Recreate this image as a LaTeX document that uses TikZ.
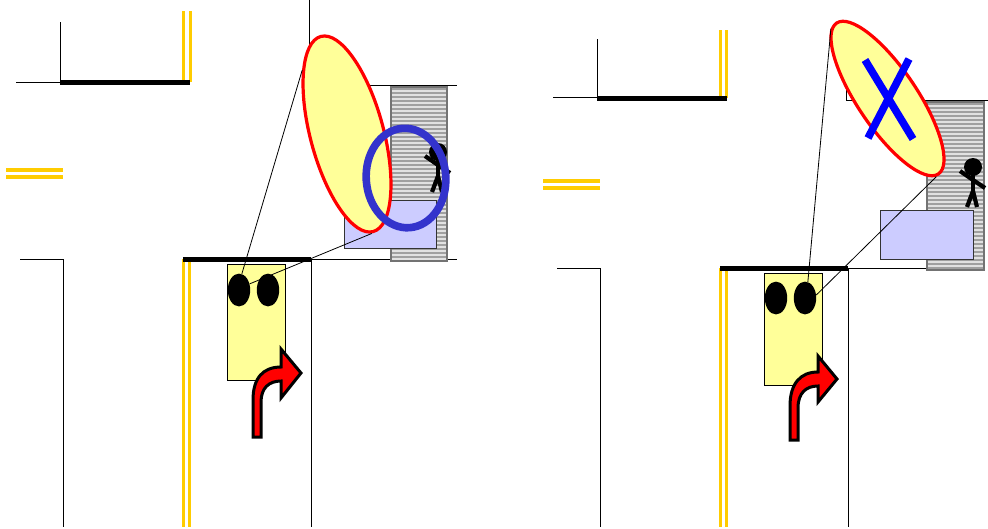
\documentclass[tikz,border=0pt]{standalone}
\usepackage{xcolor}
\usetikzlibrary{shapes.geometric, calc}
\definecolor{roadyellow}{RGB}{255, 204, 0}
\definecolor{carfill}{RGB}{255, 255, 153}
\definecolor{bluebox}{RGB}{204, 204, 255}
\definecolor{ringblue}{RGB}{51, 51, 204}
\definecolor{stripegray}{RGB}{160, 160, 160}
\definecolor{stripelight}{RGB}{225, 225, 225}
\tikzset{
    edge/.style    ={draw=black, line width=0.22mm},
    kerb/.style    ={draw=black, line width=1.3mm},
    yline/.style   ={draw=roadyellow, line width=0.8mm},
    carbox/.style  ={draw=black, line width=0.25mm, fill=carfill, inner sep=0pt,
                     minimum width=14.5mm, minimum height=29.2mm},
    wheel/.style   ={ellipse, fill=black, inner sep=0pt,
                     minimum width=5.6mm, minimum height=8.2mm},
    mirror/.style  ={ellipse, draw=red, line width=0.8mm, fill=carfill, inner sep=0pt},
    obstacle/.style={draw=black!80, line width=0.25mm, fill=bluebox, inner sep=0pt,
                     minimum width=23.2mm, minimum height=12.1mm},
    ring/.style    ={ellipse, draw=ringblue, line width=1.9mm, inner sep=0pt,
                     minimum width=19.9mm, minimum height=24.9mm},
    sight/.style   ={draw=black, line width=0.2mm},
    walker/.style  ={draw=black, line width=1.05mm},
    turn/.style    ={draw=black, line width=0.75mm, fill=red, line join=miter},
    cross/.style   ={draw=blue, line width=1.9mm}
}
% double yellow line, vertical
\newcommand{\yvert}[3]{
  \draw[yline] (#1-3.2, #2) -- (#1-3.2, #3);
  \draw[yline] (#1+3.2, #2) -- (#1+3.2, #3);
}
% hatched sidewalk strip
\newcommand{\walkway}[4]{
  \fill[stripegray] (#1, #2) rectangle (#3, #4);
  \begin{scope}
    \clip (#1, #2) rectangle (#3, #4);
    \foreach \yy in {0,4,...,176}
      \draw[stripelight, line width=0.5mm] (#1, #2+\yy) -- (#3, #2+\yy);
  \end{scope}
  \draw[draw=black!55, line width=0.35mm] (#1, #2) rectangle (#3, #4);
}
\newcommand{\pedestrian}[2]{
  \begin{scope}[shift={(#1, #2)}]
    \fill (0, 0) circle [radius=9];
    \draw[walker] (0, 0) -- (0, 24);
    \draw[walker] (-13, 4) -- (0, 13) -- (12, 21);
    \draw[walker] (-6, 40) -- (0, 24) -- (4, 40);
  \end{scope}
}

\begin{document}
\begin{tikzpicture}[x=0.25mm, y=-0.25mm]
  \useasboundingbox (0, 0) rectangle (988, 528);

  % ---- left panel: road edges
  \draw[edge] (16, 82) -- (60, 82) -- (60, 22);
  \draw[edge] (20, 259) -- (63, 259) -- (63, 527);
  \draw[edge] (309, 0) -- (309, 60);
  \draw[edge] (311.5, 259) -- (311.5, 527);
  \draw[edge] (340, 85) -- (457, 85);
  \draw[edge] (311, 259) -- (457, 259);
  \yvert{187}{11}{82}
  \yvert{186.5}{259}{527}
  \draw[yline] (6, 170) -- (63, 170);
  \draw[yline] (6, 177) -- (63, 177);
  \draw[kerb] (60, 82.5) -- (190, 82.5);
  \draw[kerb] (183, 259.5) -- (311, 259.5);

  % ---- left panel: walkway
  \walkway{391}{87}{447}{261}
  \pedestrian{438}{152}
  \node[obstacle] (boxa) at (390.5, 224.5) {};

  % ---- left panel: car
  \node[carbox] (cara) at (256, 322.5) {};
  \node[wheel] (wheelal) at (239, 290) {};
  \node[wheel] (wheelar) at (268, 290) {};

  % ---- left panel: view
  \node[mirror, rotate=15, minimum width=18.3mm, minimum height=50.5mm] (viewa) at (347, 134) {};
  \draw[sight] (wheelal.80) -- (viewa.110);
  \draw[sight] (wheelal.30) -- (viewa.269);
  \node[ring, rotate=4] (ringa) at (406, 178) {};

  % ---- left panel: turn arrow
  \draw[turn] (253, 437) -- (253, 400) .. controls (253, 378) and (263, 367) .. (281, 367)
       -- (281, 349) -- (301, 373) -- (281, 398) -- (281, 381)
       .. controls (269, 381) and (261, 388) .. (261, 402) -- (261, 437) -- cycle;

  % ---- right panel: road edges
  \draw[edge] (553, 97) -- (597, 97) -- (597, 39);
  \draw[edge] (557, 268) -- (600, 268) -- (600, 527);
  \draw[edge] (848.5, 268) -- (848.5, 527);
  \draw[edge] (846, 70) -- (846, 100) -- (988, 100);
  \draw[edge] (848, 268) -- (984, 268);
  \yvert{723.5}{30}{98}
  \yvert{723.5}{268}{527}
  \draw[yline] (543, 181) -- (600, 181);
  \draw[yline] (543, 188) -- (600, 188);
  \draw[kerb] (597, 98.5) -- (727, 98.5);
  \draw[kerb] (720, 268.5) -- (848, 268.5);

  % ---- right panel: walkway
  \walkway{927}{102}{984}{270}
  \pedestrian{973}{167}
  \node[obstacle] (boxb) at (927, 235) {};

  % ---- right panel: car
  \node[carbox, minimum height=28.2mm] (carb) at (793, 329.5) {};
  \node[wheel] (wheelbl) at (776, 298) {};
  \node[wheel] (wheelbr) at (805, 298) {};

  % ---- right panel: view
  \node[mirror, rotate=34, minimum width=14.8mm, minimum height=45.5mm] (viewb) at (887.5, 98.5) {};
  \draw[sight] (wheelbr.80) -- (viewb.95);
  \draw[sight] (wheelbr.15) -- (viewb.268);
  \draw[cross] (865, 60) -- (913, 139);
  \draw[cross] (909, 59) -- (868, 138);

  % ---- right panel: turn arrow
  \draw[turn] (790, 440) -- (790, 406) .. controls (790, 384) and (800, 372) .. (818, 372)
       -- (818, 356) -- (837, 379) -- (818, 402) -- (818, 386)
       .. controls (806, 386) and (798, 393) .. (798, 408) -- (798, 440) -- cycle;
\end{tikzpicture}
\end{document}
